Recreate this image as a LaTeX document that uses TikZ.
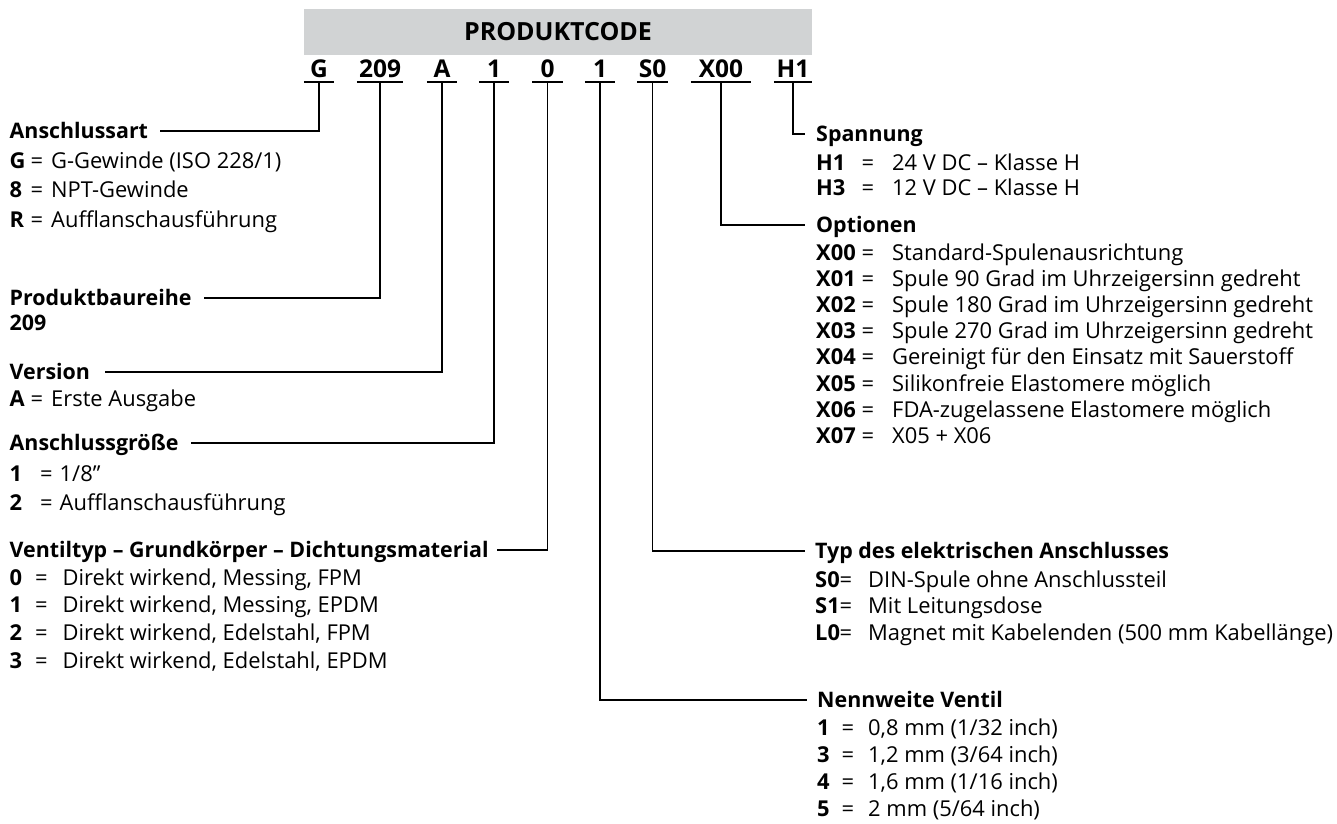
\documentclass[tikz,border=0pt]{standalone}
\usepackage{fontspec}
\setmainfont{Open Sans}
\usepackage{array}
\usepackage{tikz}
\usetikzlibrary{positioning}
\definecolor{codeGrey}{HTML}{D1D3D4}
% key | = | text, one row per entry
\newcommand{\keylist}[3]{\begin{tabular}[t]{@{}>{\bfseries}w{l}{#1}@{}w{l}{#2}@{}l@{}}#3\end{tabular}}

\begin{document}
\begin{tikzpicture}[
    x=1pt, y=-1pt,
    title/.style={fill=codeGrey, minimum width=508pt, minimum height=46pt, inner sep=0pt, font=\fontsize{25}{30}\selectfont\bfseries},
    code/.style={anchor=base, inner xsep=0pt, inner ysep=5pt, text depth=0pt, minimum width=#1, font=\fontsize{24.5}{29}\selectfont\bfseries},
    code/.default=30pt,
    head/.style={anchor=west, inner sep=0pt, text height=15.3pt, text depth=0pt, font=\fontsize{21.4}{25}\selectfont\bfseries},
    list/.style={anchor=base west, inner sep=0pt, font=\fontsize{21.9}{#1}\selectfont},
    uline/.style={line width=2.2pt},
    link/.style={line width=1.8pt},
]
\useasboundingbox (0,0) rectangle (1337,823);

\node[title] (title) at (558,32) {PRODUKTCODE};

% code positions
\node[code] (cG) at (319,77) {G};
\node[code=46pt] (c209) at (380,77) {209};
\node[code] (cA) at (442,77) {A};
\node[code] (cSize) at (494,77) {1};
\node[code] (cType) at (547.5,77) {0};
\node[code] (cDN) at (600,77) {1};
\node[code] (cS) at (652.5,77) {S0};
\node[code=60pt] (cX) at (721,77) {X00};
\node[code=38pt] (cH) at (793,77) {H1};

% left column
\node[head] (hArt) at (9.5,131) {Anschlussart};
\node[list=29.5] (lArt) at (9.5,168) {\keylist{21pt}{20.5pt}{G & = & G-Gewinde (ISO 228/1)\\ 8 & = & NPT-Gewinde\\ R & = & Aufflanschausführung}};
\node[head] (hSeries) at (9.5,298) {Produktbaureihe};
\node[list=25, font=\fontsize{21.4}{25}\selectfont\bfseries] (lSeries) at (9.5,330) {209};
\node[head] (hVer) at (9.5,372) {Version};
\node[list=26] (lVer) at (9.5,406) {\keylist{21pt}{20.5pt}{A & = & Erste Ausgabe}};
\node[head] (hSize) at (9.5,443) {Anschlussgröße};
\node[list=29] (lSize) at (9.5,481) {\keylist{30.5pt}{19.5pt}{1 & = & 1/8”\\ 2 & = & Aufflanschausführung}};
\node[head] (hType) at (9.5,550) {Ventiltyp – Grundkörper – Dichtungsmaterial};
\node[list=27.7] (lType) at (9.5,585) {\keylist{25.5pt}{27.5pt}{0 & = & Direkt wirkend, Messing, FPM\\ 1 & = & Direkt wirkend, Messing, EPDM\\ 2 & = & Direkt wirkend, Edelstahl, FPM\\ 3 & = & Direkt wirkend, Edelstahl, EPDM}};

% right column
\node[head] (hVolt) at (816,134) {Spannung};
\node[list=25] (lVolt) at (816,170) {\keylist{45.5pt}{30.5pt}{H1 & = & 24 V DC – Klasse H\\ H3 & = & 12 V DC – Klasse H}};
\node[head] (hOpt) at (816,225) {Optionen};
\node[list=26.2] (lOpt) at (816,260) {\keylist{45.5pt}{30.5pt}{X00 & = & Standard-Spulenausrichtung\\ X01 & = & Spule 90 Grad im Uhrzeigersinn gedreht\\ X02 & = & Spule 180 Grad im Uhrzeigersinn gedreht\\ X03 & = & Spule 270 Grad im Uhrzeigersinn gedreht\\ X04 & = & Gereinigt für den Einsatz mit Sauerstoff\\ X05 & = & Silikonfreie Elastomere möglich\\ X06 & = & FDA-zugelassene Elastomere möglich\\ X07 & = & X05 + X06}};
\node[head] (hConn) at (815,551) {Typ des elektrischen Anschlusses};
\node[list=26.5] (lConn) at (815,587) {\keylist{24.5pt}{28.5pt}{S0 & = & DIN-Spule ohne Anschlussteil\\ S1 & = & Mit Leitungsdose\\ L0 & = & Magnet mit Kabelenden (500 mm Kabellänge)}};
\node[head] (hDN) at (817,700) {Nennweite Ventil};
\node[list=27] (lDN) at (817,735) {\keylist{24.5pt}{26.5pt}{1 & = & 0,8 mm (1/32 inch)\\ 3 & = & 1,2 mm (3/64 inch)\\ 4 & = & 1,6 mm (1/16 inch)\\ 5 & = & 2 mm (5/64 inch)}};

% underlines
\foreach \c in {cG,c209,cA,cSize,cType,cDN,cS,cX,cH}
    \draw[uline] (\c.south west) -- (\c.south east);

% connectors
\draw[link, shorten >=12pt] (cG.south) |- (hArt.east);
\draw[link, shorten >=12pt] (c209.south) |- (hSeries.east);
\draw[link, shorten >=15pt] (cA.south) |- (hVer.east);
\draw[link, shorten >=12pt] (cSize.south) |- (hSize.east);
\draw[link, shorten >=8pt] (cType.south) |- (hType.east);
\draw[link, shorten >=11pt] (cH.south) |- (hVolt.west);
\draw[link, shorten >=11pt] (cX.south) |- (hOpt.west);
\draw[link, shorten >=10pt] (cS.south) |- (hConn.west);
\draw[link, shorten >=10pt] (cDN.south) |- (hDN.west);
\end{tikzpicture}
\end{document}
